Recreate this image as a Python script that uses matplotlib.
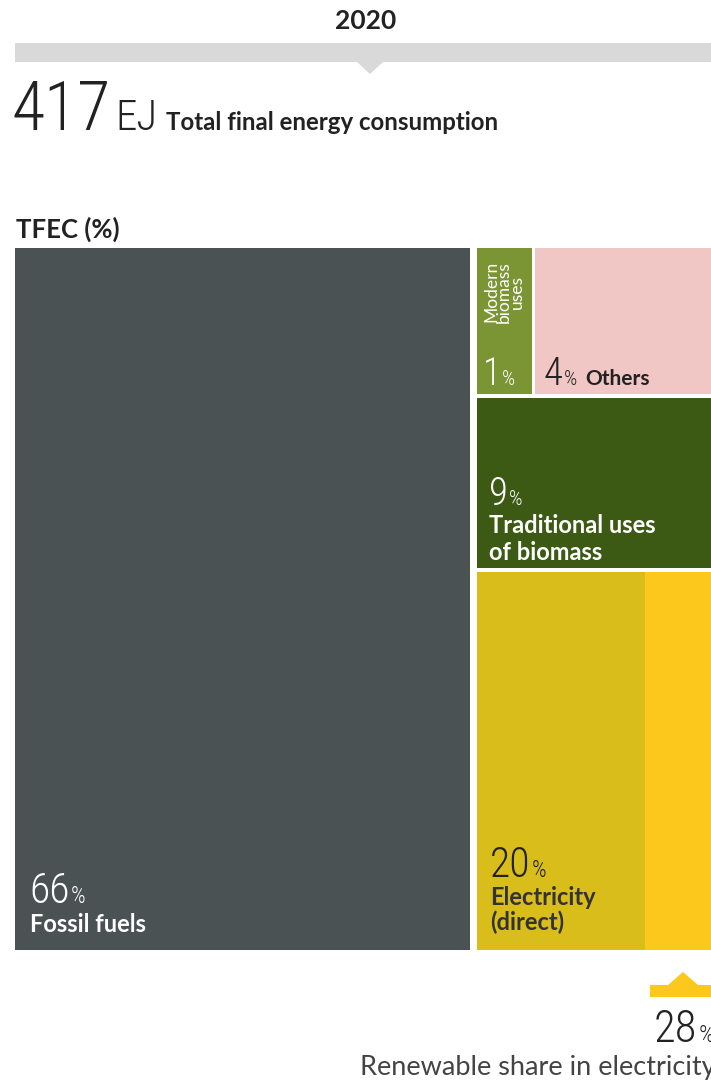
import matplotlib
matplotlib.use("Agg")
import matplotlib.pyplot as plt
from matplotlib.patches import Rectangle, Polygon

# data
year = "2020"
total_ej = 417
categories = ["Fossil fuels", "Modern biomass uses", "Others",
              "Traditional uses of biomass", "Electricity (direct)"]
shares = [66, 1, 4, 9, 20]
renewable_elec_share = 28

colors = {"Fossil fuels": "#4b5254", "Modern biomass uses": "#7b9434",
          "Others": "#f0c7c5", "Traditional uses of biomass": "#3d5a15",
          "Electricity (direct)": "#d9bd1a"}
light_yellow = "#fdc81c"

NUM = ["Roboto Condensed", "Liberation Sans Narrow", "DejaVu Sans"]
LAB = ["Lato", "DejaVu Sans"]
DARK = "#222222"

fig = plt.figure(figsize=(7.11, 10.8), dpi=100)
ax = fig.add_axes([0, 0, 1, 1])
ax.set_xlim(0, 711)
ax.set_ylim(1080, 0)
ax.axis("off")


def txt(x, y, s, size, col=DARK, fam=LAB, weight="bold", **kw):
    return ax.text(x, y, s, fontsize=size, color=col, family=fam,
                   fontweight=weight, va="baseline", **kw)


def right_of(t):
    fig.canvas.draw()
    return t.get_window_extent().transformed(ax.transData.inverted()).x1


def pct(x, y, v, col, size=30):
    t = txt(x, y, str(v), size, col, NUM, "light")
    txt(right_of(t) + 1, y, "%", size * 0.55, col, NUM, "light")


# header
txt(366, 29, year, 19, ha="center")
ax.add_patch(Rectangle((15, 43), 720, 19, color="#d9d9d9", lw=0))
ax.add_patch(Polygon([(357, 62), (383, 62), (370, 74)], color="#d9d9d9", lw=0))
t = txt(12, 130, str(total_ej), 49, fam=NUM, weight="light")
t = txt(right_of(t) + 4, 130, "EJ", 31, fam=NUM, weight="light")
txt(right_of(t) + 9, 130, "Total final energy consumption", 17.3)
txt(16, 238, "TFEC (%)", 18.5)

# treemap layout (pixel frame)
x0, y0, x1, y1 = 15, 248, 711, 950
gap = 7
top_min = 0.21  # top row enlarged so its labels fit
fossil, modern, others, trad, elec = shares
rest = modern + others + trad + elec
fw = (x1 - x0 - gap) * fossil / (fossil + rest)
ax.add_patch(Rectangle((x0, y0), fw, y1 - y0, color=colors["Fossil fuels"], lw=0))
rx = x0 + fw + gap
rw = x1 - rx
H = y1 - y0 - 2 * 4
h_top = H * top_min
h_trad = (H - h_top) * trad / (trad + elec)
h_elec = (H - h_top) * elec / (trad + elec)
mw = max(rw * modern / (modern + others), 55)
ax.add_patch(Rectangle((rx, y0), mw, h_top, color=colors["Modern biomass uses"], lw=0))
ax.add_patch(Rectangle((rx + mw + 3, y0), rw - mw - 3, h_top,
                       color=colors["Others"], lw=0))
ty = y0 + h_top + 4
ax.add_patch(Rectangle((rx, ty), rw, h_trad,
                       color=colors["Traditional uses of biomass"], lw=0))
ey = ty + h_trad + 4
ax.add_patch(Rectangle((rx, ey), rw, h_elec,
                       color=colors["Electricity (direct)"], lw=0))
lw_ = rw * renewable_elec_share / 100
ax.add_patch(Rectangle((x1 - lw_, ey), lw_, h_elec, color=light_yellow, lw=0))

# labels
pct(x0 + 14, y1 - 47, fossil, "white")
txt(x0 + 15, y1 - 18, "Fossil fuels", 17, "white")

ax.text(rx + mw / 2, y0 + 13, "Modern\nbiomass\nuses", rotation=90, ha="center",
        va="top", fontsize=12.5, color="white", family=LAB, linespacing=0.75)
pct(rx + 6, y0 + h_top - 9, modern, "white", 27)
t = txt(rx + mw + 12, y0 + h_top - 9, str(others), 28, fam=NUM, weight="light")
t = txt(right_of(t) + 1, y0 + h_top - 9, "%", 15, fam=NUM, weight="light")
txt(right_of(t) + 8, y0 + h_top - 9, "Others", 15)

pct(rx + 12, ty + 107, trad, "white", 28)
txt(rx + 12, ty + 135, "Traditional uses", 17, "white")
txt(rx + 12, ty + 162, "of biomass", 17, "white")

pct(rx + 13, y1 - 73, elec, DARK, 30)
txt(rx + 13, y1 - 45, "Electricity", 17, "#333333")
txt(rx + 13, y1 - 20, "(direct)", 17, "#333333")

# renewable share marker
ax.add_patch(Rectangle((650, 985), 80, 12, color=light_yellow, lw=0))
ax.add_patch(Polygon([(668, 985), (698, 985), (683, 972)], color=light_yellow, lw=0))
pct(654, 1042, renewable_elec_share, DARK, 32)
txt(360, 1075, "Renewable share in electricity", 19.5, "#444444", weight="normal")

fig.savefig("out.png", dpi=100)
